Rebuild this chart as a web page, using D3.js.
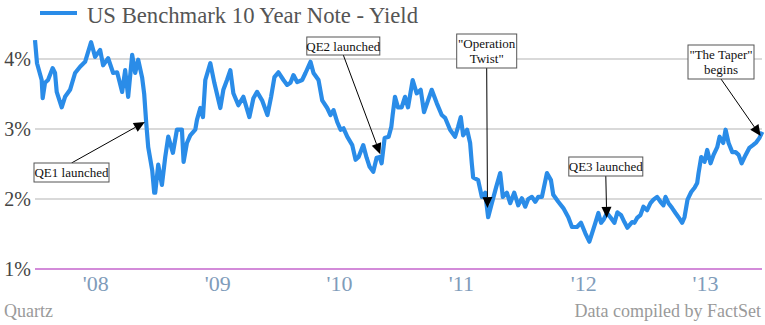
<!DOCTYPE html>
<html><head><meta charset="utf-8">
<script src="https://cdn.jsdelivr.net/npm/d3@7"></script>
<style>
html,body{margin:0;padding:0;background:#fff;}
svg{display:block;}
</style></head>
<body>
<svg id="chart" width="765" height="325"></svg>
<script>
// ---------------- data ----------------
const seriesName = "US Benchmark 10 Year Note - Yield";
const dates = [
"2008-01-01","2008-01-07","2008-01-21","2008-01-24","2008-01-31","2008-02-09","2008-02-23","2008-03-01","2008-03-06","2008-03-21",
"2008-03-31","2008-04-15","2008-04-30","2008-05-15","2008-05-30","2008-06-17","2008-06-29","2008-07-14","2008-07-23","2008-08-07",
"2008-08-22","2008-09-03","2008-09-18","2008-09-27","2008-10-06","2008-10-18","2008-10-27","2008-11-05","2008-11-17","2008-11-23",
"2008-11-29","2008-12-05","2008-12-17","2008-12-23","2008-12-26",
"2009-01-04","2009-01-15","2009-01-25","2009-02-03","2009-02-17","2009-03-01","2009-03-16","2009-03-21","2009-03-31","2009-04-10",
"2009-04-25","2009-04-30","2009-05-10","2009-05-18","2009-05-25","2009-06-09","2009-06-21","2009-07-09","2009-07-18","2009-07-29",
"2009-08-08","2009-08-17","2009-09-01","2009-09-16","2009-10-04","2009-10-16","2009-10-27","2009-11-11","2009-11-27","2009-12-08",
"2009-12-18","2009-12-30",
"2010-01-14","2010-01-25","2010-02-04","2010-02-13","2010-02-24","2010-03-11","2010-03-21","2010-04-05","2010-04-14","2010-04-29",
"2010-05-10","2010-05-25","2010-06-04","2010-06-13","2010-06-24","2010-07-04","2010-07-13","2010-07-24","2010-08-08","2010-08-18",
"2010-08-27","2010-09-10","2010-09-20","2010-09-29","2010-10-10","2010-10-20","2010-10-29","2010-11-04","2010-11-13","2010-11-25",
"2010-12-03","2010-12-07","2010-12-14","2010-12-23",
"2011-01-03","2011-01-13","2011-01-22","2011-02-05","2011-02-17","2011-03-01","2011-03-11","2011-03-23","2011-04-03","2011-04-18",
"2011-05-03","2011-05-13","2011-05-28","2011-06-12","2011-06-21","2011-06-29","2011-07-06","2011-07-18","2011-07-27","2011-08-01",
"2011-08-05","2011-08-20","2011-08-31","2011-09-10","2011-09-19","2011-09-30","2011-10-13","2011-10-25","2011-11-02","2011-11-14",
"2011-11-24","2011-12-06","2011-12-18","2011-12-29",
"2012-01-08","2012-01-17","2012-01-28","2012-02-07","2012-02-16","2012-02-27","2012-03-13","2012-03-25","2012-04-01","2012-04-16",
"2012-05-01","2012-05-16","2012-05-27","2012-06-11","2012-06-23","2012-07-06","2012-07-18","2012-07-26","2012-08-05","2012-08-14",
"2012-08-22","2012-08-29","2012-09-09","2012-09-19","2012-10-01","2012-10-10","2012-10-21","2012-10-31","2012-11-09","2012-11-23",
"2012-11-30","2012-12-08","2012-12-18","2012-12-27",
"2013-01-07","2013-01-17","2013-01-26","2013-02-06","2013-02-16","2013-02-25","2013-03-03","2013-03-12","2013-03-23","2013-04-02",
"2013-04-11","2013-04-22","2013-04-29","2013-05-08","2013-05-19","2013-05-29","2013-06-06","2013-06-10","2013-06-18","2013-06-28",
"2013-07-06","2013-07-16","2013-07-25","2013-08-05","2013-08-12","2013-08-23","2013-08-30","2013-09-08","2013-09-19","2013-09-29",
"2013-10-08","2013-10-17","2013-10-29","2013-11-09","2013-11-20","2013-11-30","2013-12-09","2013-12-18"
];
const yields = [
4.27,3.94,3.70,3.44,3.66,3.70,3.87,3.80,3.53,3.31,
3.46,3.56,3.80,3.89,3.96,4.24,4.03,4.13,3.91,4.01,
3.80,3.81,3.53,3.84,3.46,4.06,3.80,3.99,3.73,3.50,
3.09,2.74,2.41,2.09,2.09,
2.49,2.20,2.60,2.89,2.66,2.99,2.99,2.53,2.80,2.91,
2.99,3.13,3.30,3.17,3.70,3.94,3.66,3.30,3.56,3.70,
3.84,3.51,3.34,3.46,3.17,3.44,3.53,3.41,3.20,3.46,
3.74,3.81,
3.70,3.63,3.66,3.77,3.67,3.70,3.80,3.96,3.80,3.70,
3.41,3.30,3.20,3.27,3.10,2.99,3.01,2.89,2.77,2.56,
2.60,2.77,2.59,2.46,2.39,2.59,2.60,2.51,2.87,2.89,
3.03,3.20,3.46,3.31,
3.31,3.46,3.31,3.70,3.51,3.56,3.24,3.41,3.56,3.37,
3.20,3.16,2.99,2.89,3.03,3.17,2.91,2.99,2.80,2.51,
2.31,2.27,2.03,2.09,1.74,1.94,2.17,2.37,2.03,2.09,
1.94,2.09,1.91,2.01,
1.89,2.00,2.03,1.96,2.03,2.03,2.37,2.27,2.06,1.96,
1.87,1.74,1.60,1.60,1.66,1.51,1.39,1.51,1.66,1.80,
1.66,1.70,1.80,1.74,1.66,1.81,1.77,1.67,1.59,1.67,
1.66,1.73,1.77,1.89,
1.84,1.94,1.99,2.03,1.96,1.91,2.03,1.94,1.87,1.80,
1.74,1.66,1.74,1.99,2.10,2.16,2.23,2.37,2.60,2.53,
2.70,2.51,2.63,2.74,2.89,2.80,2.99,2.80,2.67,2.67,
2.63,2.51,2.63,2.73,2.77,2.81,2.87,2.96
];
const yTicks = [1, 2, 3, 4];
const xTickDates = ["2008-07-01","2009-07-01","2010-07-01","2011-07-01","2012-07-01","2013-07-01"];
const xTickLabels = ["'08","'09","'10","'11","'12","'13"];

const annoLabels = [["QE1 launched"],["QE2 launched"],["\"Operation","Twist\""],["QE3 launched"],["\"The Taper\"","begins"]];
const annoDates = ["2008-11-25","2010-10-31","2011-09-17","2012-09-08","2013-12-13"];
const annoValues = [3.10, 2.64, 1.87, 1.73, 2.90];

const sourceLeft = "Quartz";
const sourceRight = "Data compiled by FactSet";

// ---------------- layout ----------------
const parse = d3.timeParse("%Y-%m-%d");
const svg = d3.select("#chart");
const left = 35, right = 762;
const x = d3.scaleTime().domain([parse("2008-01-01"), parse("2014-01-01")]).range([35, 767]);
const y = d3.scaleLinear().domain([1, 4]).range([269, 59]);

const serif = "'Liberation Serif', 'DejaVu Serif', serif";

// gridlines
svg.append("g").selectAll("line").data(yTicks).join("line")
  .attr("x1", left).attr("x2", right)
  .attr("y1", d => y(d)).attr("y2", d => y(d))
  .attr("stroke", d => d === 1 ? "#c464cc" : "#b4b4b4")
  .attr("stroke-width", d => d === 1 ? 1.5 : 1.2);

// y labels
svg.append("g").selectAll("text").data(yTicks).join("text")
  .attr("x", 31).attr("y", d => y(d) + 7)
  .attr("text-anchor", "end")
  .attr("font-family", serif).attr("font-size", 20)
  .attr("fill", "#444")
  .text(d => d + "%");

// x labels
svg.append("g").selectAll("text").data(xTickDates).join("text")
  .attr("x", d => x(parse(d))).attr("y", 291)
  .attr("text-anchor", "middle")
  .attr("font-family", serif).attr("font-size", 22)
  .attr("fill", "#7f9cba")
  .text((d, i) => xTickLabels[i]);

// line
const pts = dates.map((d, i) => [parse(d), yields[i]]);
svg.append("path").datum(pts)
  .attr("fill", "none")
  .attr("stroke", "#2a8ce8")
  .attr("stroke-width", 4.2)
  .attr("stroke-linejoin", "round")
  .attr("d", d3.line().x(d => x(d[0])).y(d => y(d[1])));

// legend / title
svg.append("line").attr("x1", 40).attr("x2", 77).attr("y1", 13).attr("y2", 13)
  .attr("stroke", "#2a8ce8").attr("stroke-width", 4);
svg.append("text").attr("x", 87).attr("y", 22.5)
  .attr("font-family", serif).attr("font-size", 24)
  .attr("fill", "#555")
  .attr("textLength", 331).attr("lengthAdjust", "spacingAndGlyphs")
  .text(seriesName);

// annotations: box center x, box top y, width, height (pixels)
const boxes = [
  {cx: 71.5, top: 163, w: 75, h: 19, from: "top"},
  {cx: 343.3, top: 37, w: 73, h: 18, from: "bottom"},
  {cx: 486.7, top: 34, w: 60, h: 34, from: "bottom"},
  {cx: 605.8, top: 157, w: 74, h: 19, from: "bottom"},
  {cx: 721, top: 45, w: 66, h: 34, from: "bottom"}
];
const ag = svg.append("g");
annoLabels.forEach((lines, i) => {
  const b = boxes[i];
  const tx = x(parse(annoDates[i])), ty = y(annoValues[i]);
  const sx = b.cx, sy = b.from === "top" ? b.top : b.top + b.h;
  const dx = tx - sx, dy = ty - sy, len = Math.hypot(dx, dy);
  const ux = dx / len, uy = dy / len;
  const hl = 11, hw = 5;
  const bx = tx - ux * hl, by = ty - uy * hl;
  ag.append("line").attr("x1", sx).attr("y1", sy).attr("x2", bx).attr("y2", by)
    .attr("stroke", "#000").attr("stroke-width", 1);
  ag.append("path")
    .attr("d", `M${tx},${ty}L${bx - uy * hw},${by + ux * hw}L${bx + uy * hw},${by - ux * hw}Z`)
    .attr("fill", "#000");
  ag.append("rect").attr("x", b.cx - b.w / 2).attr("y", b.top).attr("width", b.w).attr("height", b.h)
    .attr("fill", "#fff").attr("stroke", "#555").attr("stroke-width", 1);
  const t = ag.append("text").attr("font-family", serif).attr("font-size", 13)
    .attr("fill", "#111").attr("text-anchor", "middle");
  lines.forEach((ln, j) => {
    t.append("tspan").attr("x", b.cx)
      .attr("y", b.top + (lines.length === 1 ? b.h / 2 + 4.5 : 13.5 + j * 15))
      .text(ln);
  });
});

// footer
svg.append("text").attr("x", 4).attr("y", 317)
  .attr("font-family", serif).attr("font-size", 18).attr("fill", "#9a9a9a")
  .text(sourceLeft);
svg.append("text").attr("x", 761).attr("y", 317).attr("text-anchor", "end")
  .attr("font-family", serif).attr("font-size", 18).attr("fill", "#9a9a9a")
  .text(sourceRight);
</script>
</body></html>
